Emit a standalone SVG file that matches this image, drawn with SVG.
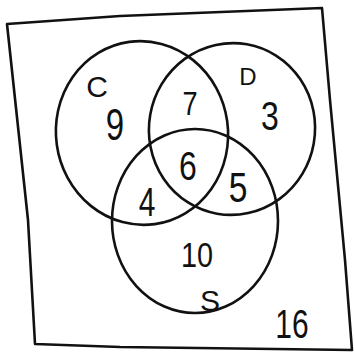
<svg xmlns="http://www.w3.org/2000/svg" width="355" height="356" viewBox="0 0 355 356">
<style>
.ln{fill:none;stroke:#111;stroke-width:2.6;stroke-linecap:round;stroke-linejoin:round}
.t{font-family:"Liberation Sans","DejaVu Sans",sans-serif;fill:#111;text-anchor:middle;dominant-baseline:central}
</style>
<rect width="355" height="356" fill="#fff"/>
<g id="frame"><path class="ln" d="M7,24 L120,16 L322,8 L330,100 L345,260 L352,350 L120,347 L35,344 L28,220 L7,24 Z"/></g>
<g id="connectors"></g>
<g id="C"><ellipse class="ln" cx="142" cy="133" rx="86" ry="92" transform="rotate(-8 142 133)"/><text class="t" x="97" y="86" font-size="30">C</text><text class="t" x="115" y="125" font-size="44" transform="translate(115 125) scale(0.75 1) translate(-115 -125)">9</text></g>
<g id="D"><ellipse class="ln" cx="232" cy="129" rx="83" ry="86" transform="rotate(10 232 129)"/><text class="t" x="248" y="76" font-size="24">D</text><text class="t" x="270" y="116" font-size="40" transform="translate(270 116) scale(0.8 1) translate(-270 -116)">3</text></g>
<g id="S"><ellipse class="ln" cx="195" cy="221" rx="83" ry="92"/><text class="t" x="210" y="300" font-size="30">S</text><text class="t" x="197" y="254" font-size="36" transform="translate(197 254) scale(0.8 1) translate(-197 -254)">10</text><text class="t" x="292" y="324" font-size="40" transform="translate(292 324) scale(0.75 1) translate(-292 -324)">16</text></g>
<g id="CD"><text class="t" x="190" y="103" font-size="34" transform="translate(190 103) scale(0.8 1) translate(-190 -103)">7</text></g>
<g id="CDS"><text class="t" x="188" y="166" font-size="40" transform="translate(188 166) scale(0.8 1) translate(-188 -166)">6</text></g>
<g id="CS"><text class="t" x="147" y="202" font-size="40" transform="translate(147 202) scale(0.75 1) translate(-147 -202)">4</text></g>
<g id="DS"><text class="t" x="238" y="188" font-size="42" transform="translate(238 188) scale(0.8 1) translate(-238 -188)">5</text></g>
</svg>
